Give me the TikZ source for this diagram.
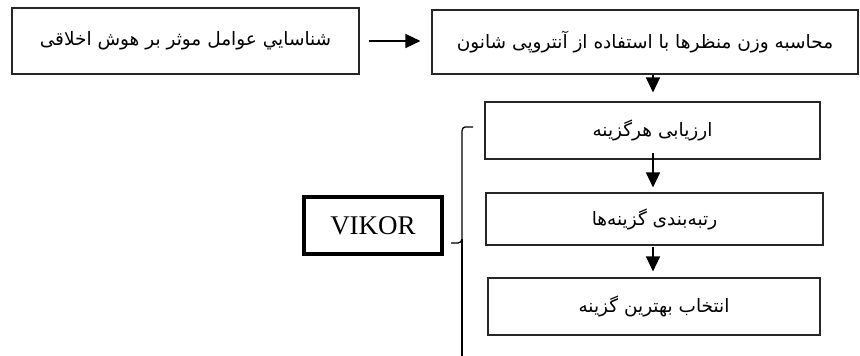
\documentclass[tikz,border=0pt]{standalone}
\usepackage{fontspec}
\setmainfont{Liberation Serif}
\newfontfamily\farsi[Script=Arabic]{DejaVu Sans}
\TeXXeTstate=1
\usetikzlibrary{arrows.meta}
\newcommand{\fa}[1]{{\farsi\fontsize{18.5}{22}\selectfont\beginR #1\endR}}
\tikzset{
  box/.style={draw=black!85, line width=1.1pt, rectangle, inner sep=0pt},
  thickbox/.style={draw=black, line width=4.5pt, rectangle, inner sep=0pt},
  arr/.style={draw=black, line width=1.3pt, -{Triangle[width=14pt,length=15pt]}},
  brace/.style={draw=black, line width=1.3pt}
}
\begin{document}
\begin{tikzpicture}[x=1pt,y=-1pt]
\useasboundingbox (0,0) rectangle (860,356);
\node[box, minimum width=347pt, minimum height=66pt] (b1) at (185.5,41) {\fa{شناسايي عوامل موثر بر هوش اخلاقی}};
\node[box, minimum width=426pt, minimum height=64pt] (b2) at (645,42) {\fa{محاسبه وزن منظرها با استفاده از آنتروپی شانون}};
\node[box, minimum width=335pt, minimum height=57pt] (b3) at (652.5,130.5) {\fa{ارزیابی هرگزینه}};
\node[box, minimum width=337pt, minimum height=52pt] (b4) at (654.5,219) {\fa{رتبه‌بندی گزینه‌ها}};
\node[box, minimum width=332pt, minimum height=57pt] (b5) at (654,306.5) {\fa{انتخاب بهترین گزینه}};
\node[thickbox, minimum width=138pt, minimum height=57pt, font=\fontsize{27}{31}\selectfont] (vk) at (373,225.5) {VIKOR};
\draw[arr, shorten <=9pt, shorten >=11pt] (b1.east) -- (b1.east -| b2.west);
\draw[arr, shorten >=9pt] (b2.south -| 653,0) -- (b3.north -| 653,0);
\draw[arr, shorten <=-7pt, shorten >=5pt] (b3.south -| 653,0) -- (b4.north -| 653,0);
\draw[arr, shorten <=1pt, shorten >=6pt] (b4.south -| 653,0) -- (b5.north -| 653,0);
\coordinate (bt) at (473,127);
\coordinate (bm) at (451,243);
\coordinate (bb) at (462,356);
\draw[brace] (bt) -- (465,127) to[out=180,in=90] (462,131) -- (462,239) to[out=-90,in=0] (458,243) -- (bm);
\draw[brace] (462,239) -- (bb);
\end{tikzpicture}
\end{document}
